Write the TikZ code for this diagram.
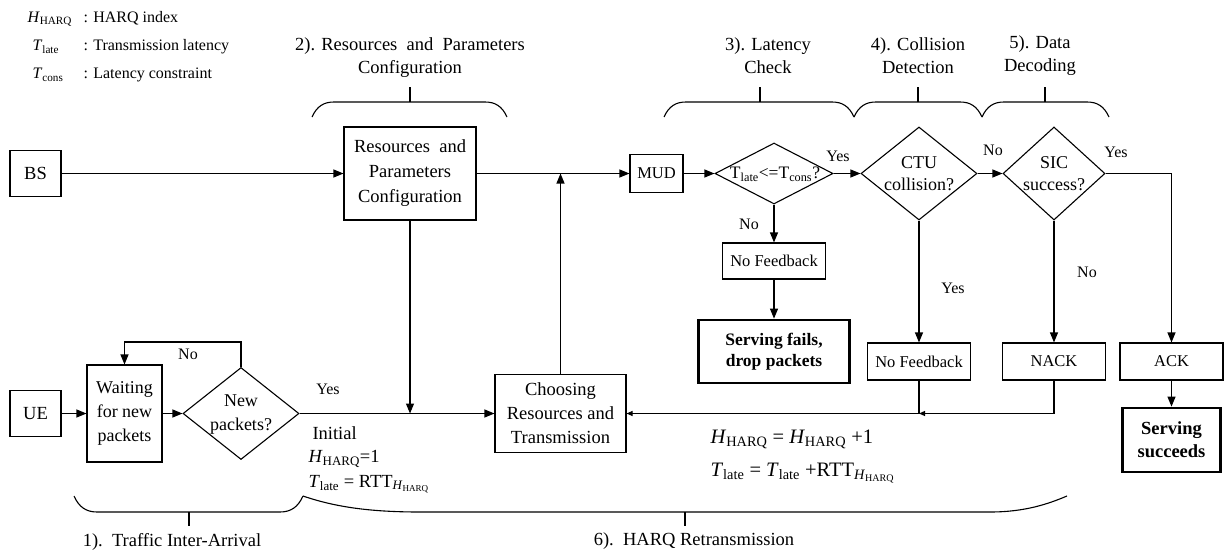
\documentclass[tikz,border=0pt]{standalone}
\usepackage{fontspec}
\setmainfont{Liberation Serif}
\usetikzlibrary{arrows.meta,shapes.geometric}
\newcommand\fsA{\fontsize{18.5}{24}\selectfont}
\newcommand\fsB{\fontsize{16.5}{20}\selectfont}
\newcommand\fsC{\fontsize{16}{19}\selectfont}
\newcommand\fsD{\fontsize{20.5}{24}\selectfont}
\newcommand\fsE{\fontsize{17.5}{21}\selectfont}
\tikzset{
  box/.style={draw, line width=1.1pt, inner sep=0pt, align=center, font=\fsA},
  sbox/.style={box, font=\fsB, minimum width=103, minimum height=37},
  endbox/.style={draw, line width=2.8pt, inner sep=0pt, align=center},
  dia/.style={draw, diamond, line width=1.1pt, inner sep=0pt},
  txt/.style={inner sep=0pt, align=center, font=\fsA},
  lbl/.style={inner sep=0pt, font=\fsC},
  brace/.style={line width=1.1pt},
  sarrow/.style={-{Triangle[length=6pt,width=5pt]}},
}
\begin{document}
\begin{tikzpicture}[x=1pt,y=-1pt,line width=1.1pt,>={Triangle[length=10pt,width=8pt]}]
\useasboundingbox (0,0) rectangle (1224,552);
% legend
\node[lbl, anchor=west] (lgh) at (27,19) {\textit{H}\textsubscript{HARQ}};
\node[lbl, anchor=west] (lgha) at (83,18) {: HARQ index};
\node[lbl, anchor=west] (lgt) at (32,47) {\textit{T}\textsubscript{late}};
\node[lbl, anchor=west] (lgta) at (83,47) {: Transmission latency};
\node[lbl, anchor=west] (lgc) at (32,75) {\textit{T}\textsubscript{cons}};
\node[lbl, anchor=west] (lgca) at (83,75) {: Latency constraint};
% brace labels
\node[txt, font=\fontsize{18.5}{23}\selectfont] (b2t) at (410,58) {2). Resources\ \ and\ \ Parameters\\Configuration};
\node[txt, font=\fontsize{18.5}{23}\selectfont] (b3t) at (768,56) {3). Latency\\Check};
\node[txt, font=\fontsize{18.5}{23}\selectfont] (b4t) at (918,56) {4). Collision\\Detection};
\node[txt, font=\fontsize{18.5}{23}\selectfont] (b5t) at (1040,56) {5). Data\\Decoding};
\node[txt] (b1t) at (172,542) {1).\ \ Traffic Inter-Arrival};
\node[txt] (b6t) at (694,541) {6).\ \ HARQ Retransmission};
% top braces
\draw[brace] (312,117) .. controls (317,106) and (324,102) .. (334,102) -- (485,102) .. controls (495,102) and (502,106) .. (507,117);
\draw[brace] (410,102) -- (410,87);
\draw[brace] (664,117) .. controls (669,106) and (676,102) .. (686,102) -- (832,102) .. controls (842,102) and (849,106) .. (854,117);
\draw[brace] (760,102) -- (760,87);
\draw[brace] (854,117) .. controls (859,106) and (866,102) .. (876,102) -- (960,102) .. controls (970,102) and (977,106) .. (982,117);
\draw[brace] (918,102) -- (918,87);
\draw[brace] (982,117) .. controls (987,106) and (994,102) .. (1004,102) -- (1087,102) .. controls (1097,102) and (1104,106) .. (1109,117);
\draw[brace] (1045,102) -- (1045,87);
% bottom braces
\draw[brace] (74,496) .. controls (79,507) and (86,512) .. (97,512) -- (280,512) .. controls (291,512) and (298,507) .. (303,496);
\draw[brace] (189,512) -- (189,526);
\draw[brace] (303,496) .. controls (335,507) and (370,512) .. (420,512) -- (990,512) .. controls (1025,512) and (1048,504) .. (1067,496);
\draw[brace] (685,512) -- (685,526);
% row 1
\node[box, minimum width=51, minimum height=46] (bs) at (35.5,173.5) {BS};
\node[box, minimum width=132, minimum height=93, font=\fontsize{18.5}{25}\selectfont] (res) at (410,173.5) {Resources\ \ and\\Parameters\\Configuration};
\node[box, font=\fsB, minimum width=53, minimum height=38] (mud) at (656.5,173.5) {MUD};
\node[dia, minimum width=118, minimum height=61] (tl) at (774,173.5) {};
\node[txt, font=\fsE] (tlt) at (775,174) {T\textsubscript{late}<=T\textsubscript{cons}?};
\node[dia, minimum width=116, minimum height=93] (ctu) at (919,173.5) {};
\node[txt, font=\fontsize{18}{22}\selectfont] (ctut) at (919,174) {CTU\\collision?};
\node[dia, minimum width=102, minimum height=93] (sic) at (1054,173.5) {};
\node[txt, font=\fontsize{18}{22}\selectfont] (sict) at (1054,174) {SIC\\success?};
% row 2
\node[box, minimum width=51, minimum height=46] (ue) at (35.5,413.5) {UE};
\node[box, minimum width=75, minimum height=97, font=\fontsize{18}{23.7}\selectfont] (wait) at (124.5,413.5) {Waiting\\for new\\packets};
\node[dia, minimum width=116, minimum height=92] (np) at (241,413.5) {};
\node[txt, font=\fontsize{18}{24}\selectfont] (npt) at (241,415) {New\\packets?};
\node[box, minimum width=131, minimum height=78] (ch) at (560.5,413.5) {Choosing\\Resources and\\Transmission};
% lower boxes
\node[sbox, minimum height=36] (nf1) at (774,261) {No Feedback};
\node[endbox, minimum width=151, minimum height=63, font=\fontsize{17.5}{21}\selectfont\bfseries] (fails) at (774,351.5) {Serving fails,\\drop packets};
\node[sbox] (nf2) at (919,361.5) {No Feedback};
\node[sbox] (nack) at (1054,361.5) {NACK};
\node[sbox] (ack) at (1171.5,361.5) {ACK};
\node[endbox, minimum width=98, minimum height=64, font=\fontsize{18.5}{23}\selectfont\bfseries] (succ) at (1171.5,440) {Serving\\succeeds};
% coordinates
\coordinate (j0) at (410,413.5);
\coordinate (j2) at (919,413.5);
\coordinate (lp) at (241,342);
% connectors
\draw[->] (bs) -- (res);
\draw[->] (res) -- (mud);
\draw[->] (ch) -- (ch |- res);
\draw[->] (mud) -- (tl);
\draw[->] (tl) -- (ctu);
\draw[->] (ctu) -- (sic);
\draw[->] (sic.east) -| (ack.north);
\draw[->] (tl) -- (nf1);
\draw[->] (nf1) -- (fails);
\draw[->] (ctu) -- (nf2);
\draw[->] (sic) -- (nack);
\draw[->] (ack) -- (succ);
\draw[sarrow] (nack.south) |- (j2);
\draw (nf2.south) -- (j2);
\draw[sarrow] (j2) -- (ch.east);
\draw[->] (res) -- (j0);
\draw[->] (ue) -- (wait);
\draw[->] (wait) -- (np);
\draw[->] (np) -- (ch);
\draw[->] (np.north) -- (lp) -| (wait.north);
% yes/no labels
\node[lbl] (l1) at (188,354) {No};
\node[lbl] (l2) at (328,389) {Yes};
\node[lbl] (l3) at (749,224) {No};
\node[lbl] (l4) at (838,156) {Yes};
\node[lbl] (l5) at (993,150) {No};
\node[lbl] (l6) at (1116,152) {Yes};
\node[lbl] (l7) at (953,288) {Yes};
\node[lbl] (l8) at (1087,272) {No};
% initial text
\node[txt, anchor=west] (in1) at (312,433) {Initial};
\node[txt, anchor=west] (in2) at (308,459) {\textit{H}\textsubscript{HARQ}=1};
\node[txt, anchor=west] (in3) at (308,484) {\textit{T}\textsubscript{late} = RTT\textsubscript{\textit{H}\textsubscript{HARQ}}};
% update formula
\node[txt, anchor=west, font=\fsD] (f1) at (710,439) {\textit{H}\textsubscript{HARQ} = \textit{H}\textsubscript{HARQ} +1};
\node[txt, anchor=west, font=\fsD] (f2) at (710,473) {\textit{T}\textsubscript{late} = \textit{T}\textsubscript{late} +RTT\textsubscript{\textit{H}\textsubscript{HARQ}}};
\end{tikzpicture}
\end{document}
